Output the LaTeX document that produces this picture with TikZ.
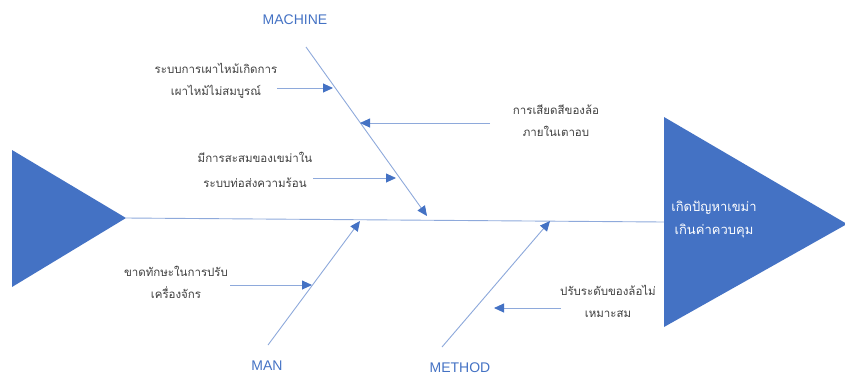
\documentclass[tikz,border=0pt]{standalone}
\usepackage{fontspec}
\setmainfont{Liberation Sans}
\newfontfamily\thaifont[Script=Thai]{Loma}
\usetikzlibrary{arrows.meta}
\definecolor{tri}{HTML}{4472C4}
\definecolor{bone}{HTML}{8EA9DB}
\definecolor{lbl}{HTML}{4472C4}
\definecolor{txt}{HTML}{404040}
\begin{document}
\begin{tikzpicture}[x=1pt,y=-1pt,
  bonestyle/.style={draw=bone, line width=0.9pt},
  arr/.style={bonestyle, -{Triangle[length=10pt,width=9pt,color=tri]}},
  thai/.style={font=\thaifont\fontsize{11.5}{22}\selectfont, text=txt, align=center, inner sep=0pt},
  cat/.style={font=\fontsize{14}{16}\selectfont, text=lbl, inner sep=0pt},
  headfill/.style={fill=tri}]
\useasboundingbox (0,0) rectangle (845,376);
% fish tail and head
\coordinate (t1) at (12,150); \coordinate (t2) at (12,287); \coordinate (ltip) at (126,218);
\coordinate (h1) at (664,117); \coordinate (h2) at (664,327); \coordinate (htip) at (847,224);
\fill[headfill] (t1) -- (ltip) -- (t2) -- cycle;
\fill[headfill] (h1) -- (htip) -- (h2) -- cycle;
\coordinate (hl) at (664,222);
\draw[bonestyle] (ltip) -- (hl);
% head text
\node[thai, text=white, font=\thaifont\fontsize{13}{23}\selectfont] (head) at (714,219) {เกิดปัญหาเขม่า\\เกินค่าควบคุม};
% category labels
\node[cat] (machine) at (295,20) {MACHINE};
\node[cat] (man) at (267,366) {MAN};
\node[cat] (method) at (460,368) {METHOD};
% main bones
\coordinate (m0) at (306,47); \coordinate (m1) at (427,216);
\coordinate (n0) at (268,345); \coordinate (n1) at (360,221);
\coordinate (d0) at (442,347); \coordinate (d1) at (550,221);
\draw[arr] (m0) -- (m1);
\draw[arr] (n0) -- (n1);
\draw[arr] (d0) -- (d1);
% causes
\node[thai] (c1) at (216,81) {ระบบการเผาไหม้เกิดการ\\เผาไหม้ไม่สมบูรณ์};
\node[thai, font=\thaifont\fontsize{11.5}{25}\selectfont] (c2) at (255,170) {มีการสะสมของเขม่าใน\\ระบบท่อส่งความร้อน};
\node[thai] (c3) at (556,121) {การเสียดสีของล้อ\\ภายในเตาอบ};
\node[thai] (c4) at (176,282) {ขาดทักษะในการปรับ\\เครื่องจักร};
\node[thai] (c5) at (608,301) {ปรับระดับของล้อไม่\\เหมาะสม};
% cause arrows
\coordinate (a1s) at (277,88);  \coordinate (a1e) at (333,88);
\coordinate (a2s) at (490,123); \coordinate (a2e) at (360,123);
\coordinate (a3s) at (313,178); \coordinate (a3e) at (396,178);
\coordinate (a4s) at (230,285); \coordinate (a4e) at (312,285);
\coordinate (a5s) at (561,308); \coordinate (a5e) at (494,308);
\draw[arr] (a1s) -- (a1e);
\draw[arr] (a2s) -- (a2e);
\draw[arr] (a3s) -- (a3e);
\draw[arr] (a4s) -- (a4e);
\draw[arr] (a5s) -- (a5e);
\end{tikzpicture}
\end{document}
